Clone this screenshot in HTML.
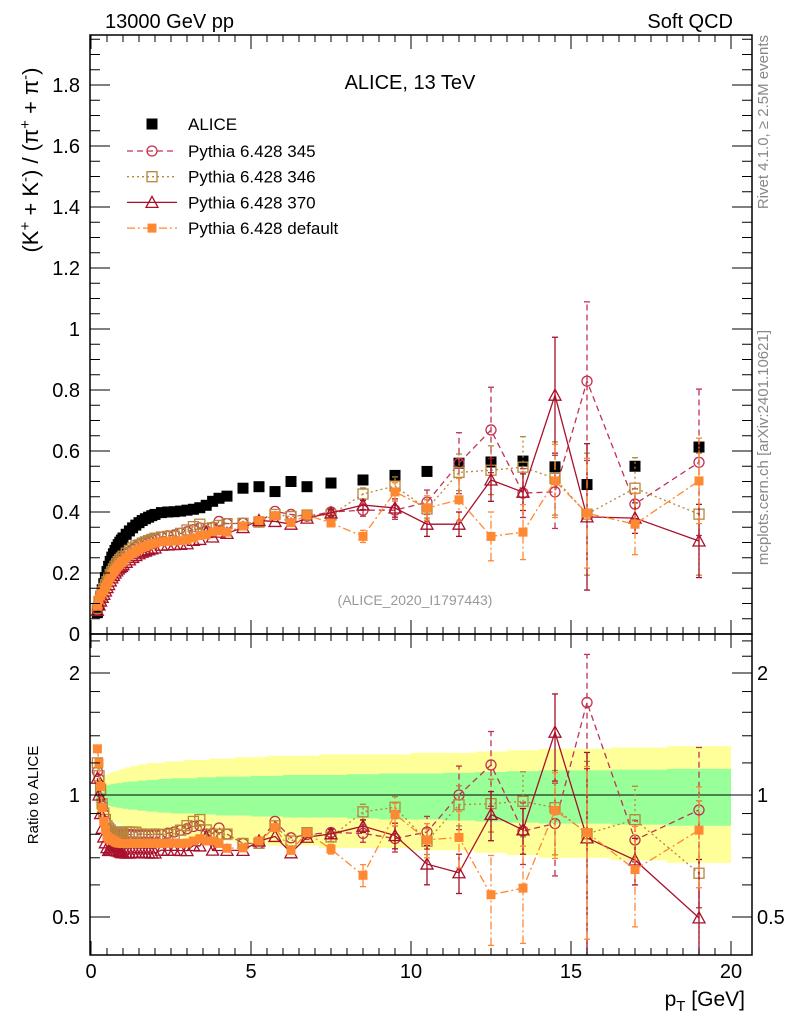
<!DOCTYPE html>
<html><head><meta charset="utf-8">
<style>
html,body{margin:0;padding:0;background:#fff;}
svg{display:block;font-family:"Liberation Sans",sans-serif;}
</style></head>
<body>
<svg id="c" width="786" height="1024" viewBox="0 0 786 1024"></svg>
<script>
const pT = [0.2,0.25,0.3,0.35,0.4,0.45,0.5,0.55,0.6,0.65,0.7,0.75,0.8,0.85,0.9,0.95,1.0,1.1,1.2,1.3,1.4,1.5,1.6,1.7,1.8,1.9,2.0,2.2,2.4,2.6,2.8,3.0,3.2,3.4,3.6,3.8,4.0,4.25,4.75,5.25,5.75,6.25,6.75,7.5,8.5,9.5,10.5,11.5,12.5,13.5,14.5,15.5,17,19];
const alice = [0.07,0.095,0.12,0.145,0.165,0.185,0.205,0.222,0.238,0.252,0.263,0.274,0.284,0.293,0.301,0.308,0.315,0.327,0.338,0.348,0.357,0.365,0.372,0.378,0.383,0.388,0.392,0.398,0.400,0.401,0.403,0.406,0.409,0.414,0.422,0.435,0.445,0.452,0.478,0.483,0.467,0.500,0.483,0.495,0.505,0.52,0.533,0.56,0.564,0.567,0.548,0.49,0.55,0.613];
const relInner = [0.05,0.05,0.05,0.05,0.055,0.055,0.055,0.06,0.06,0.065,0.065,0.065,0.07,0.07,0.07,0.07,0.075,0.075,0.08,0.08,0.08,0.085,0.085,0.085,0.09,0.09,0.09,0.095,0.095,0.1,0.1,0.1,0.1,0.105,0.105,0.105,0.11,0.11,0.11,0.115,0.115,0.12,0.12,0.12,0.125,0.13,0.13,0.135,0.14,0.145,0.15,0.15,0.155,0.16];
const relOuter = [0.1,0.1,0.1,0.11,0.11,0.12,0.12,0.13,0.13,0.14,0.14,0.14,0.15,0.15,0.15,0.16,0.16,0.17,0.17,0.18,0.18,0.19,0.19,0.19,0.2,0.2,0.2,0.2,0.21,0.21,0.21,0.22,0.22,0.22,0.22,0.23,0.23,0.23,0.24,0.24,0.25,0.25,0.25,0.26,0.26,0.26,0.27,0.27,0.28,0.29,0.3,0.3,0.31,0.32];
const p345 = [0.08,0.104,0.122,0.136,0.148,0.159,0.170,0.182,0.193,0.202,0.211,0.219,0.227,0.234,0.241,0.246,0.252,0.262,0.270,0.278,0.285,0.292,0.298,0.302,0.306,0.310,0.314,0.318,0.322,0.325,0.330,0.335,0.342,0.348,0.338,0.350,0.369,0.362,0.363,0.367,0.402,0.392,0.386,0.40,0.406,0.406,0.432,0.56,0.669,0.462,0.466,0.829,0.426,0.563];
const p346 = [0.084,0.106,0.124,0.138,0.149,0.161,0.172,0.184,0.195,0.204,0.213,0.222,0.230,0.237,0.244,0.249,0.255,0.265,0.274,0.282,0.289,0.292,0.298,0.302,0.306,0.310,0.314,0.318,0.320,0.321,0.330,0.341,0.352,0.360,0.346,0.348,0.356,0.362,0.363,0.367,0.392,0.385,0.39,0.39,0.459,0.485,0.41,0.53,0.537,0.547,0.51,0.393,0.478,0.393];
const p370 = [0.077,0.095,0.108,0.120,0.130,0.141,0.152,0.162,0.174,0.184,0.192,0.200,0.207,0.213,0.218,0.222,0.227,0.235,0.243,0.251,0.257,0.263,0.268,0.272,0.276,0.279,0.282,0.291,0.292,0.293,0.294,0.296,0.307,0.31,0.333,0.318,0.334,0.33,0.349,0.372,0.369,0.36,0.38,0.397,0.423,0.413,0.36,0.36,0.505,0.465,0.783,0.384,0.38,0.305];
const pdef = [0.091,0.114,0.126,0.135,0.142,0.152,0.162,0.173,0.186,0.195,0.203,0.210,0.217,0.223,0.229,0.234,0.239,0.249,0.257,0.264,0.271,0.277,0.283,0.287,0.291,0.295,0.298,0.302,0.304,0.305,0.306,0.309,0.315,0.323,0.325,0.335,0.338,0.334,0.354,0.372,0.388,0.365,0.39,0.364,0.32,0.466,0.413,0.44,0.32,0.334,0.502,0.396,0.36,0.502];
// uncertainties on the last 11 points (pT >= 7.5)
const e345 = [0.01,0.02,0.03,0.04,0.1,0.14,0.08,0.12,0.26,0.05,0.24];
const e346 = [0.01,0.02,0.03,0.03,0.06,0.08,0.1,0.12,0.2,0.1,0.2];
const e370 = [0.01,0.015,0.03,0.04,0.04,0.07,0.06,0.19,0.24,0.05,0.12];
const edef = [0.01,0.02,0.03,0.04,0.07,0.08,0.09,0.12,0.18,0.1,0.14];
const xTicks = [0,5,10,15,20];
const yTicks = [0,0.2,0.4,0.6,0.8,1,1.2,1.4,1.6,1.8];
const rTicks = [0.5,1,2];

const NS="http://www.w3.org/2000/svg";
const svg=document.getElementById('c');
const L=90,R=752,T=35,MB=634,RB=955;
const X=v=>91+v*32;
const Y=v=>634-v*305;
const RY=v=>795-Math.log2(v)*122;
function mk(tag,attrs,parent){const e=document.createElementNS(NS,tag);for(const k in attrs)e.setAttribute(k,attrs[k]);(parent||svg).appendChild(e);return e;}
function txt(s,x,y,attrs,parent){const e=mk('text',Object.assign({x:x,y:y},attrs),parent);e.textContent=s;return e;}

const defs=mk('defs',{});
const c1=mk('clipPath',{id:'cm'},defs);mk('rect',{x:L,y:T,width:R-L,height:MB-T},c1);
const c2=mk('clipPath',{id:'cr'},defs);mk('rect',{x:L,y:MB,width:R-L,height:RB-MB},c2);

const gBand=mk('g',{'clip-path':'url(#cr)'});


function bandPath(rel){let up='',dn='';
  for(let i=0;i<pT.length;i++){
    const x0=i==0?X(pT[0]-0.05):X((pT[i-1]+pT[i])/2);
    const x1=i==pT.length-1?X(20):X((pT[i]+pT[i+1])/2);
    up+=(i==0?'M':'L')+x0+','+RY(1+rel[i])+'L'+x1+','+RY(1+rel[i]);
    dn='L'+x1+','+RY(1-rel[i])+'L'+x0+','+RY(1-rel[i])+dn;}
  return up+dn+'Z';}
const yb=mk('path',{d:bandPath(relOuter),fill:'#ffff99'},gBand);


const gb=mk('path',{d:bandPath(relInner),fill:'#99ff99'},gBand);


mk('line',{x1:L,x2:R,y1:RY(1),y2:RY(1),stroke:'#000','stroke-width':1},gBand);

const series=[
 {name:'pythia-345',vals:p345,err:e345,col:'#c03352',dash:'6,4',mark:'circle'},
 {name:'pythia-346',vals:p346,err:e346,col:'#b8863b',dash:'2,3',mark:'osquare'},
 {name:'pythia-370',vals:p370,err:e370,col:'#a8102a',dash:'',mark:'triangle'},
 {name:'pythia-default',vals:pdef,err:edef,col:'#ff8833',dash:'8,3,2,3',mark:'fsquare'}];

function marker(type,x,y,col,g,s){
  s=s||5;
  if(type=='circle')return mk('circle',{cx:x,cy:y,r:s,fill:'#fff','fill-opacity':0,stroke:col,'stroke-width':1.3},g);
  if(type=='osquare')return mk('rect',{x:x-s,y:y-s,width:2*s,height:2*s,fill:'none',stroke:col,'stroke-width':1.3},g);
  if(type=='fsquare')return mk('rect',{x:x-s+0.5,y:y-s+0.5,width:2*s-1,height:2*s-1,fill:col},g);
  if(type=='triangle')return mk('path',{d:`M${x},${y-s-1}L${x+s+1},${y+s}L${x-s-1},${y+s}Z`,fill:'none',stroke:col,'stroke-width':1.3},g);
  if(type=='bsquare')return mk('rect',{x:x-s,y:y-s,width:2*s,height:2*s,fill:col},g);
}

function drawSeries(s,panel){
  const ratio=panel=='r';
  const g=mk('g',{'clip-path':ratio?'url(#cr)':'url(#cm)'});
  
  
  const yf=ratio?(i=>RY(s.vals[i]/alice[i])):(i=>Y(s.vals[i]));
  let d='';
  for(let i=0;i<pT.length;i++)d+=(i?'L':'M')+X(pT[i])+','+yf(i);
  mk('path',{d:d,fill:'none',stroke:s.col,'stroke-width':1.3,'stroke-dasharray':s.dash},g);
  const off=pT.length-s.err.length;
  for(let j=0;j<s.err.length;j++){
    const i=off+j,x=X(pT[i]);const e=s.err[j];
    const lo=ratio?RY(Math.max(0.05,(s.vals[i]-e)/alice[i])):Y(s.vals[i]-e);
    const hi=ratio?RY((s.vals[i]+e)/alice[i]):Y(s.vals[i]+e);
    mk('line',{x1:x,x2:x,y1:lo,y2:hi,stroke:s.col,'stroke-width':1.3,'stroke-dasharray':s.dash},g);
    mk('line',{x1:x-3,x2:x+3,y1:lo,y2:lo,stroke:s.col,'stroke-width':1.3},g);
    mk('line',{x1:x-3,x2:x+3,y1:hi,y2:hi,stroke:s.col,'stroke-width':1.3},g);
  }
  for(let i=0;i<pT.length;i++){
    const m=marker(s.mark,X(pT[i]),yf(i),s.col,g);
    
    
  }
}
const ga=mk('g',{'clip-path':'url(#cm)'});


for(let i=0;i<pT.length;i++){
  const m=marker('bsquare',X(pT[i]),Y(alice[i]),'#000',ga,5.5);
  
  
}
series.forEach(s=>drawSeries(s,'m'));
series.forEach(s=>drawSeries(s,'r'));

mk('rect',{x:L,y:T,width:R-L,height:MB-T,fill:'none',stroke:'#000','stroke-width':1.5});
mk('rect',{x:L,y:MB,width:R-L,height:RB-MB,fill:'none',stroke:'#000','stroke-width':1.5});

const ax=mk('g',{});


for(let v=0;v<=20.01;v+=0.5){
  const x=X(v),maj=Math.abs(v%5)<1e-6,len=maj?14:7;
  [[MB,MB-len],[T,T+len],[RB,RB-len],[MB,MB+len]].forEach(p=>mk('line',{x1:x,x2:x,y1:p[0],y2:p[1],stroke:'#000','stroke-width':1},ax));
}
xTicks.forEach(v=>txt(String(v),X(v),978,{'font-size':20,'text-anchor':'middle'},ax));
const xl=txt('',745,1006,{'font-size':21,'text-anchor':'end'},ax);

xl.innerHTML='p<tspan font-size="15" dy="5">T</tspan><tspan dy="-5"> [GeV]</tspan>';

const ay=mk('g',{});


for(let k=0;k<=39;k++){const v=k*0.05;const y=Y(v);if(y<T)break;
  const maj=k%4==0,len=maj?20:10;
  mk('line',{x1:L,x2:L+len,y1:y,y2:y,stroke:'#000'},ay);
  mk('line',{x1:R,x2:R-len,y1:y,y2:y,stroke:'#000'},ay);}
yTicks.forEach(v=>txt(String(v),80,Y(v)+7,{'font-size':20,'text-anchor':'end'},ay));
const yl=txt('',0,0,{'font-size':22,'text-anchor':'middle',transform:'translate(38,160) rotate(-90)'},ay);

yl.innerHTML='(K<tspan font-size="15" dy="-8">+</tspan><tspan dy="8"> + K</tspan><tspan font-size="15" dy="-8">-</tspan><tspan dy="8">) / (π</tspan><tspan font-size="15" dy="-8">+</tspan><tspan dy="8"> + π</tspan><tspan font-size="15" dy="-8">-</tspan><tspan dy="8">)</tspan>';

const ar=mk('g',{});


[0.4,0.5,0.6,0.7,0.8,0.9,1,1.2,1.4,1.6,1.8,2,2.2,2.4].forEach(v=>{const y=RY(v);if(y<MB||y>RB)return;
  const maj=rTicks.includes(v),len=maj?20:10;
  mk('line',{x1:L,x2:L+len,y1:y,y2:y,stroke:'#000'},ar);
  mk('line',{x1:R,x2:R-len,y1:y,y2:y,stroke:'#000'},ar);});
rTicks.forEach(v=>{txt(String(v),80,RY(v)+7,{'font-size':20,'text-anchor':'end'},ar);txt(String(v),757,RY(v)+7,{'font-size':20},ar);});
const rl=txt('Ratio to ALICE',0,0,{'font-size':15,'text-anchor':'middle',transform:'translate(38,795) rotate(-90)'},ar);


const t1=txt('13000 GeV pp',105,28,{'font-size':20});

const t2=txt('Soft QCD',733,28,{'font-size':20,'text-anchor':'end'});

const t3=txt('ALICE, 13 TeV',410,89,{'font-size':20,'text-anchor':'middle'});

const t4=txt('(ALICE_2020_I1797443)',415,605,{'font-size':14,'text-anchor':'middle',fill:'#999'});

const t5=txt('Rivet 4.1.0, ≥ 2.5M events',0,0,{'font-size':15,'text-anchor':'end',fill:'#888',transform:'translate(768,35) rotate(-90)'});

const t6=txt('mcplots.cern.ch [arXiv:2401.10621]',0,0,{'font-size':15,'text-anchor':'end',fill:'#888',transform:'translate(768,330) rotate(-90)'});


const lg=mk('g',{});


const le0=mk('g',{},lg);


marker('bsquare',152,124,'#000',le0,5.5);
txt('ALICE',188,130,{'font-size':17},le0);
const labels=['Pythia 6.428 345','Pythia 6.428 346','Pythia 6.428 370','Pythia 6.428 default'];
series.forEach((s,i)=>{const y=151+i*25.7;
  const g=mk('g',{},lg);
  
  
  mk('line',{x1:127,x2:177,y1:y,y2:y,stroke:s.col,'stroke-width':1.3,'stroke-dasharray':s.dash},g);
  marker(s.mark,152,y,s.col,g);
  txt(labels[i],188,y+6,{'font-size':17},g);});
</script>
</body></html>
